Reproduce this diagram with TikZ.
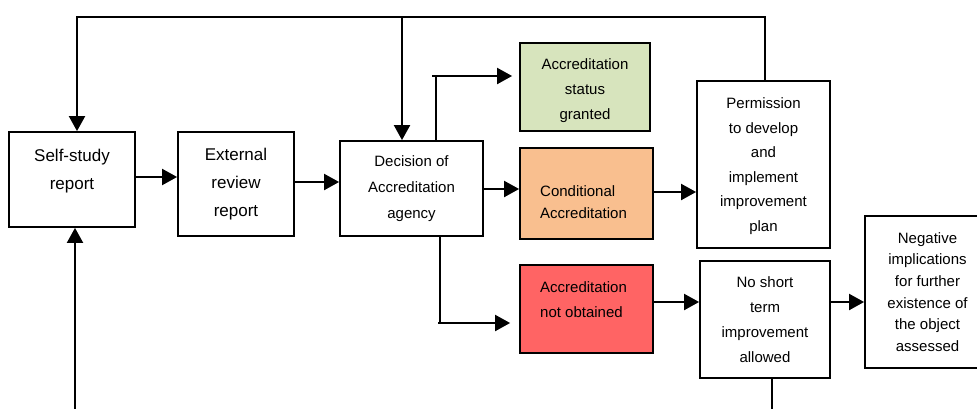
\documentclass[tikz,border=0pt]{standalone}
\usepackage{fontspec}
\setmainfont{Liberation Sans}
\usetikzlibrary{arrows.meta}
\definecolor{okgreen}{HTML}{D7E4BD}
\definecolor{condorange}{HTML}{F9BF8F}
\definecolor{failred}{HTML}{FF6464}
\begin{document}
\begin{tikzpicture}[x=1pt,y=-1pt,
  box/.style={draw,line width=1.8pt,inner sep=0pt,align=center},
  txt/.style={inner sep=0pt},
  big/.style={font=\fontsize{17}{28}\selectfont},
  arr/.style={line width=2pt,line join=miter,-{Triangle[length=15pt,width=16pt]}},
  wire/.style={line width=2pt}]
\useasboundingbox (0,0) rectangle (977,408);

% process boxes
\node[box, minimum width=126pt, minimum height=95pt] (ss) at (72,179.5) {};
\node[txt, big, align=center] (ssT) at (72,171) {Self-study\\report};
\node[box, big, minimum width=116pt, minimum height=104pt] (er) at (236,184) {External\\review\\report};
\node[box, font=\fontsize{15}{26}\selectfont, minimum width=143pt, minimum height=95pt] (dec) at (411.5,188.5) {Decision of\\Accreditation\\agency};

% outcomes
\node[box, fill=okgreen, minimum width=130pt, minimum height=88pt] (gr) at (585,87) {};
\node[txt, align=center, font=\fontsize{15}{25}\selectfont] (grT) at (585,91) {Accreditation\\status\\granted};
\node[box, fill=condorange, minimum width=133pt, minimum height=91pt] (cond) at (586.5,193.5) {};
\node[txt, anchor=west, align=left, font=\fontsize{15}{22}\selectfont] (condT) at (540,202) {Conditional\\Accreditation};
\node[box, fill=failred, minimum width=133pt, minimum height=88pt] (notob) at (586.5,309) {};
\node[txt, anchor=west, align=left, font=\fontsize{15}{25}\selectfont] (notobT) at (540,299.5) {Accreditation\\not obtained};

% consequences
\node[box, minimum width=133pt, minimum height=167pt] (perm) at (763.5,164.5) {};
\node[txt, align=center, font=\fontsize{15}{24.5}\selectfont] (permT) at (763.5,166) {Permission\\to develop\\and\\implement\\improvement\\plan};
\node[box, font=\fontsize{15}{25}\selectfont, minimum width=130pt, minimum height=117pt] (nost) at (765,319.5) {No short\\term\\improvement\\allowed};
\node[box, font=\fontsize{15}{21.6}\selectfont, minimum width=125pt, minimum height=152pt] (neg) at (927.5,292) {Negative\\implications\\for further\\existence of\\the object\\assessed};

% feedback loop along the top
\coordinate (tl) at (77,17);
\coordinate (tr) at (765,17);
\coordinate (td) at (402,17);
\draw[arr] (tr |- perm.north) -- (tr) -- (tl) -- (tl |- ss.north);
\draw[arr] (td) -- (td |- dec.north);

% input from below
\coordinate (bl) at (75,412);
\draw[arr] (bl) -- (bl |- ss.south);

% main flow
\coordinate (rA) at (0,177);
\coordinate (rB) at (0,182);
\coordinate (rC) at (0,189);
\coordinate (rD) at (0,192);
\coordinate (rE) at (0,302);
\draw[arr] (ss.east |- rA) -- (er.west |- rA);
\draw[arr] (er.east |- rB) -- (dec.west |- rB);
\draw[arr] (dec.east |- rC) -- (cond.west |- rC);
\draw[arr] (cond.east |- rD) -- (perm.west |- rD);
\draw[arr] (notob.east |- rE) -- (nost.west |- rE);
\draw[arr] (nost.east |- rE) -- (neg.west |- rE);

% decision branches
\coordinate (gu) at (436,76);
\draw[wire] (gu |- dec.north) -- (gu);
\draw[arr, shorten >=7pt] ([xshift=-4pt]gu) -- (gr.west |- gu);
\coordinate (gd) at (440,323);
\draw[wire] (gd |- dec.south) -- (gd);
\draw[arr, shorten >=9pt] ([xshift=-2pt]gd) -- (notob.west |- gd);

% outlet below
\coordinate (nb) at (772,412);
\draw[wire] (nb |- nost.south) -- (nb);
\end{tikzpicture}
\end{document}
